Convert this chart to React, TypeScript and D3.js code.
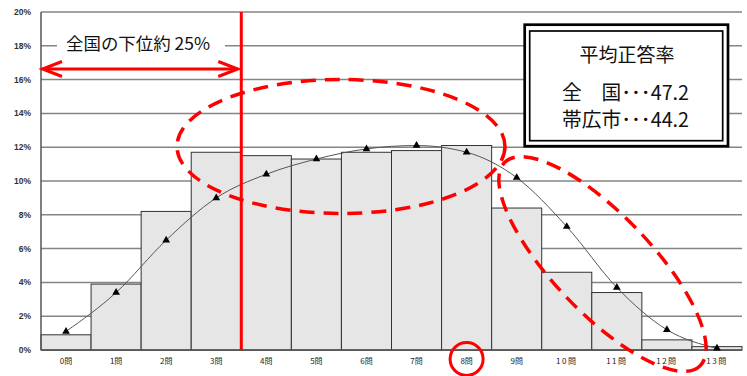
import React from "react";
import * as d3 from "d3";

// Score distribution: share of students by number of correct answers
const categories = ["0問", "1問", "2問", "3問", "4問", "5問", "6問", "7問", "8問", "9問", "10問", "11問", "12問", "13問"];
const cityShare = [0.9, 3.9, 8.2, 11.7, 11.5, 11.3, 11.7, 11.8, 12.1, 8.4, 4.6, 3.4, 0.6, 0.2];
const nationalShare = [1.1, 3.4, 6.5, 9.0, 10.4, 11.3, 11.9, 12.1, 11.7, 10.2, 7.3, 3.7, 1.2, 0.1];
const yTicks = [0, 2, 4, 6, 8, 10, 12, 14, 16, 18, 20];
const legendTitle = "平均正答率";
const legendRows = ["全　国･･･47.2", "帯広市･･･44.2"];
const noteText = "全国の下位約 25%";

const W = 747;
const H = 376;
const plot = { left: 41, right: 742, top: 12, bottom: 350 };

export default function App() {
  const x = d3.scaleBand<string>().domain(categories).range([plot.left, plot.right]).padding(0);
  const y = d3.scaleLinear().domain([0, 20]).range([plot.bottom, plot.top]);
  const cx = (i: number) => (x(categories[i]) as number) + x.bandwidth() / 2;

  const line = d3
    .line<number>()
    .x((_, i) => cx(i))
    .y((d) => y(d))
    .curve(d3.curveMonotoneX);

  const tri = d3.symbol().type(d3.symbolTriangle).size(26)();

  const cutX = x("4問") as number; // boundary of the lower quarter
  const arrowY = 69;
  const red = "#ff0000";
  const jp = "'Noto Sans CJK JP', 'Noto Sans', sans-serif";

  return (
    <svg width={W} height={H} style={{ position: "absolute", left: 0, top: 0, background: "#fff" }}>
      {/* gridlines */}
      {yTicks.map((t) => (
        <line key={t} x1={plot.left} x2={plot.right} y1={y(t)} y2={y(t)} stroke="#858585" strokeWidth={1.5} />
      ))}
      {/* y tick labels */}
      {yTicks.map((t) => (
        <text
          key={"l" + t}
          x={31}
          y={y(t) + 3}
          textAnchor="end"
          fontSize={8.5}
          fontWeight="bold"
          fill="#333"
          fontFamily="'Liberation Sans', Arial, sans-serif"
        >
          {t}%
        </text>
      ))}
      {/* bars */}
      {cityShare.map((v, i) => (
        <rect
          key={i}
          x={x(categories[i]) as number}
          y={y(v)}
          width={x.bandwidth()}
          height={y(0) - y(v)}
          fill="#e6e6e6"
          stroke="#333"
          strokeWidth={1}
        />
      ))}
      {/* axes */}
      <line x1={plot.left} x2={plot.left} y1={plot.top} y2={plot.bottom} stroke="#555" strokeWidth={1.5} />
      <line x1={plot.left} x2={plot.right} y1={plot.bottom} y2={plot.bottom} stroke="#555" strokeWidth={1.5} />
      {/* x labels */}
      {categories.map((c, i) => (
        <text
          key={c}
          x={cx(i)}
          y={364}
          textAnchor="middle"
          fontSize={8}
          fill="#222"
          letterSpacing={c.length > 2 ? 1.5 : 0}
          fontFamily={jp}
        >
          {c}
        </text>
      ))}
      {/* national distribution line */}
      <path d={line(nationalShare) as string} fill="none" stroke="#555" strokeWidth={1} />
      {nationalShare.map((v, i) => (
        <path key={"m" + i} d={tri as string} transform={`translate(${cx(i)},${y(v)})`} fill="#000" />
      ))}

      {/* lower-quarter annotation */}
      <rect x={57} y={32} width={168} height={24} fill="#fff" />
      <text x={66} y={50} fontSize={17} fill="#111" fontFamily={jp} textLength={144} lengthAdjust="spacingAndGlyphs">
        {noteText}
      </text>
      <line x1={cutX} x2={cutX} y1={plot.top} y2={plot.bottom} stroke={red} strokeWidth={3} />
      <line x1={plot.left + 2} x2={cutX - 4} y1={arrowY} y2={arrowY} stroke={red} strokeWidth={3} />
      <polyline
        points={`${plot.left + 21},${arrowY - 7.5} ${plot.left + 1.5},${arrowY} ${plot.left + 21},${arrowY + 7.5}`}
        fill="none"
        stroke={red}
        strokeWidth={3}
      />
      <polyline
        points={`${cutX - 23},${arrowY - 7.5} ${cutX - 3.5},${arrowY} ${cutX - 23},${arrowY + 7.5}`}
        fill="none"
        stroke={red}
        strokeWidth={3}
      />

      {/* highlighted regions */}
      <ellipse cx={341} cy={146.5} rx={164} ry={67} fill="none" stroke={red} strokeWidth={3.5} strokeDasharray="15 9" />
      <ellipse
        cx={0}
        cy={0}
        rx={141}
        ry={49}
        transform="translate(602.5,264) rotate(46.3)"
        fill="none"
        stroke={red}
        strokeWidth={3.5}
        strokeDasharray="15 9"
      />
      <circle cx={cx(8)} cy={359} r={16.5} fill="none" stroke={red} strokeWidth={3} />

      {/* average score box */}
      <rect x={524.7} y={24.7} width={203.3} height={121.5} fill="#fff" stroke="#000" strokeWidth={2.7} />
      <rect x={529.7} y={31} width={193} height={109.7} fill="none" stroke="#000" strokeWidth={1.7} />
      <text x={627} y={62} textAnchor="middle" fontSize={19} fill="#111" fontFamily={jp}>
        {legendTitle}
      </text>
      {legendRows.map((r, i) => (
        <text
          key={r}
          x={562}
          y={100 + i * 27}
          fontSize={20}
          fill="#111"
          fontFamily={jp}
          textLength={127}
          lengthAdjust="spacingAndGlyphs"
        >
          {r}
        </text>
      ))}
    </svg>
  );
}
